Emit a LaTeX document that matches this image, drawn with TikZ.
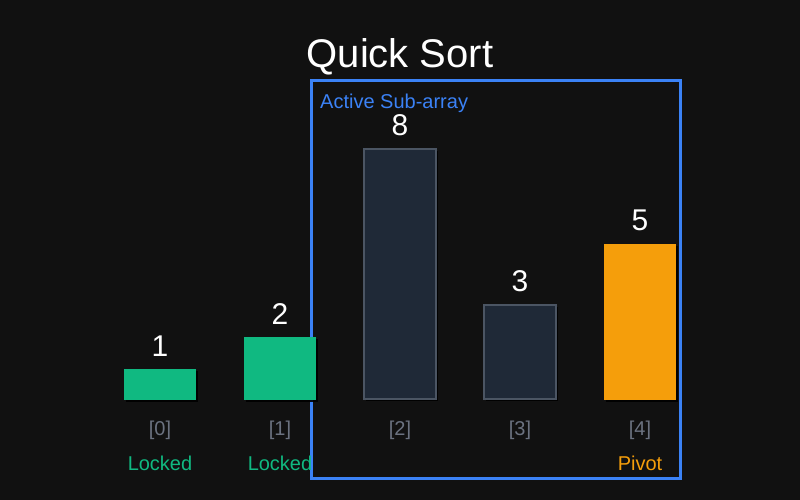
\documentclass[tikz,border=0pt]{standalone}
\usepackage{fontspec}
\setmainfont{Liberation Sans}
\usepackage{xcolor}
\usepackage{tikz}
\usetikzlibrary{positioning, shadows}
\definecolor{bgdark}{HTML}{111111}
\definecolor{lockedgreen}{HTML}{10B981}
\definecolor{pivotorange}{HTML}{F59E0B}
\definecolor{slatefill}{HTML}{1F2937}
\definecolor{slateedge}{HTML}{4B5563}
\definecolor{activeblue}{HTML}{3B82F6}
\definecolor{indexgray}{HTML}{6B7280}

\begin{document}
\begin{tikzpicture}[
    x=1pt, y=-1pt,
    bar/.style={rectangle, minimum width=72pt, anchor=south, inner sep=0pt,
        drop shadow={shadow xshift=2pt, shadow yshift=-2pt, fill=black, opacity=0.9}},
    locked/.style={bar, fill=lockedgreen},
    plain/.style={bar, fill=slatefill, draw=slateedge, line width=2pt},
    pivot/.style={bar, fill=pivotorange},
    value/.style={inner sep=0pt, text=white, font=\fontsize{30}{36}\selectfont},
    index/.style={inner sep=0pt, text=indexgray, font=\fontsize{20}{24}\selectfont},
    status/.style={inner sep=0pt, font=\fontsize{20}{24}\selectfont},
    activebox/.style={rectangle, draw=activeblue, line width=3pt, inner sep=0pt,
        minimum width=369pt, minimum height=397pt}
]

% Background
\fill[bgdark] (0,0) rectangle (800,500);
\useasboundingbox (0,0) rectangle (800,500);

% Title
\node[anchor=base, text=white, font=\fontsize{40}{48}\selectfont] (title) at (400,68) {Quick Sort};

% Active sub-array
\node[activebox] (active) at (495.5,279.5) {};
\node[anchor=west, inner sep=0pt, text=activeblue, font=\fontsize{20}{24}\selectfont] (activelabel) at (320,103) {Active Sub-array};

% Bars
\node[locked, minimum height=31.25pt] (b0) at (160,400) {};
\node[locked, minimum height=62.5pt] (b1) at (280,400) {};
\node[plain, minimum height=250pt] (b2) at (400,400) {};
\node[plain, minimum height=93.75pt] (b3) at (520,400) {};
\node[pivot, minimum height=156.25pt] (b4) at (640,400) {};

% Values
\node[value, above=12pt of b0] (v0) {1};
\node[value, above=12pt of b1] (v1) {2};
\node[value, above=12pt of b2] (v2) {8};
\node[value, above=12pt of b3] (v3) {3};
\node[value, above=12pt of b4] (v4) {5};

% Indices
\node[index, below=21pt of b0] (i0) {[0]};
\node[index, below=21pt of b1] (i1) {[1]};
\node[index, below=21pt of b2] (i2) {[2]};
\node[index, below=21pt of b3] (i3) {[3]};
\node[index, below=21pt of b4] (i4) {[4]};

% Status
\node[status, text=lockedgreen, below=16pt of i0] (s0) {Locked};
\node[status, text=lockedgreen, below=16pt of i1] (s1) {Locked};
\node[status, text=pivotorange, below=16pt of i4] (s4) {Pivot};

\end{tikzpicture}
\end{document}
